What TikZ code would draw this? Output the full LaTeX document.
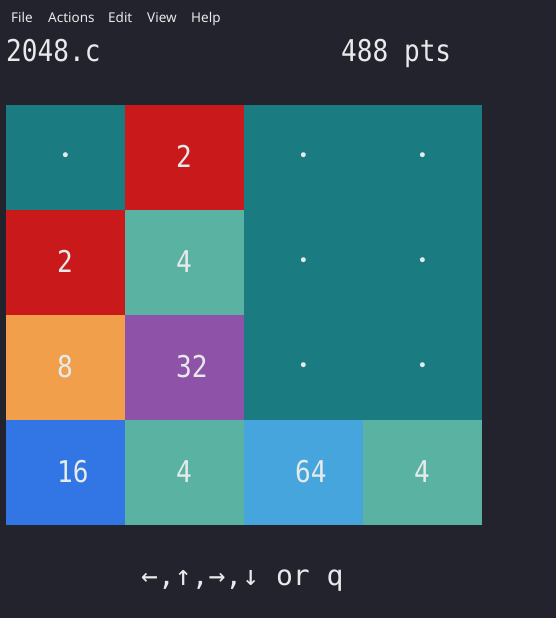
\documentclass[tikz,border=0pt]{standalone}
\usepackage{fontspec}
\newfontfamily\term[FakeStretch=0.87]{DejaVu Sans Mono}
\newfontfamily\termwide{DejaVu Sans Mono}
\newfontfamily\menufont{Noto Sans}
\definecolor{bgc}{HTML}{22232D}
\definecolor{emptyc}{HTML}{1A7B80}
\definecolor{redc}{HTML}{C9191B}
\definecolor{fourc}{HTML}{5AB3A2}
\definecolor{orangec}{HTML}{F29F4C}
\definecolor{purplec}{HTML}{8F52A9}
\definecolor{bluec}{HTML}{3275E4}
\definecolor{lbluec}{HTML}{45A5DC}
\definecolor{txtc}{HTML}{E6EAEA}
\tikzset{
  num/.style={anchor=base west, inner sep=0pt, text=txtc, font=\term\fontsize{30}{30}\selectfont},
  dotc/.style={anchor=base, inner sep=0pt, text=txtc, font=\termwide\fontsize{17}{17}\selectfont},
  keysty/.style={anchor=base west, inner sep=0pt, text=txtc, font=\termwide\fontsize{28}{28}\selectfont},
  menu/.style={anchor=base west, inner sep=0pt, text=txtc, font=\menufont\fontsize{13.5}{14}\selectfont},
}
\begin{document}
\begin{tikzpicture}[x=1pt,y=-1pt]
\fill[bgc] (0,0) rectangle (556,618);
\useasboundingbox (0,0) rectangle (556,618);
% menu
\node[menu] (mfile) at (11,23) {File};
\node[menu] (mact) at (48,23) {Actions};
\node[menu] (medit) at (108,23) {Edit};
\node[menu] (mview) at (147,23) {View};
\node[menu] (mhelp) at (191,23) {Help};
% header
\node[num] (title) at (6,62) {2048.c};
\node[num] (score) at (341,62) {488 pts};
% tiles: columns 6,125,244,363,482 ; rows 105,210,315,420,525
\fill[emptyc] (6,105) rectangle (482,420);
\fill[redc] (125,105) rectangle (244,210);
\fill[redc] (6,210) rectangle (125,315);
\fill[fourc] (125,210) rectangle (244,315);
\fill[orangec] (6,315) rectangle (125,420);
\fill[purplec] (125,315) rectangle (244,420);
\fill[bluec] (6,420) rectangle (125,525);
\fill[fourc] (125,420) rectangle (244,525);
\fill[lbluec] (244,420) rectangle (363,525);
\fill[fourc] (363,420) rectangle (482,525);
% row 1
\node[dotc] (t11) at (65.5,161) {•};
\node[num] (t12) at (176,167) {2};
\node[dotc] (t13) at (303.5,161) {•};
\node[dotc] (t14) at (422.5,161) {•};
% row 2
\node[num] (t21) at (57,272) {2};
\node[num] (t22) at (176,272) {4};
\node[dotc] (t23) at (303.5,266) {•};
\node[dotc] (t24) at (422.5,266) {•};
% row 3
\node[num] (t31) at (57,377) {8};
\node[num] (t32) at (176,377) {32};
\node[dotc] (t33) at (303.5,371) {•};
\node[dotc] (t34) at (422.5,371) {•};
% row 4
\node[num] (t41) at (57,482) {16};
\node[num] (t42) at (176,482) {4};
\node[num] (t43) at (295,482) {64};
\node[num] (t44) at (414,482) {4};
% footer
\node[keysty] (keys) at (141,585) {←,↑,→,↓ or q};
\end{tikzpicture}
\end{document}
